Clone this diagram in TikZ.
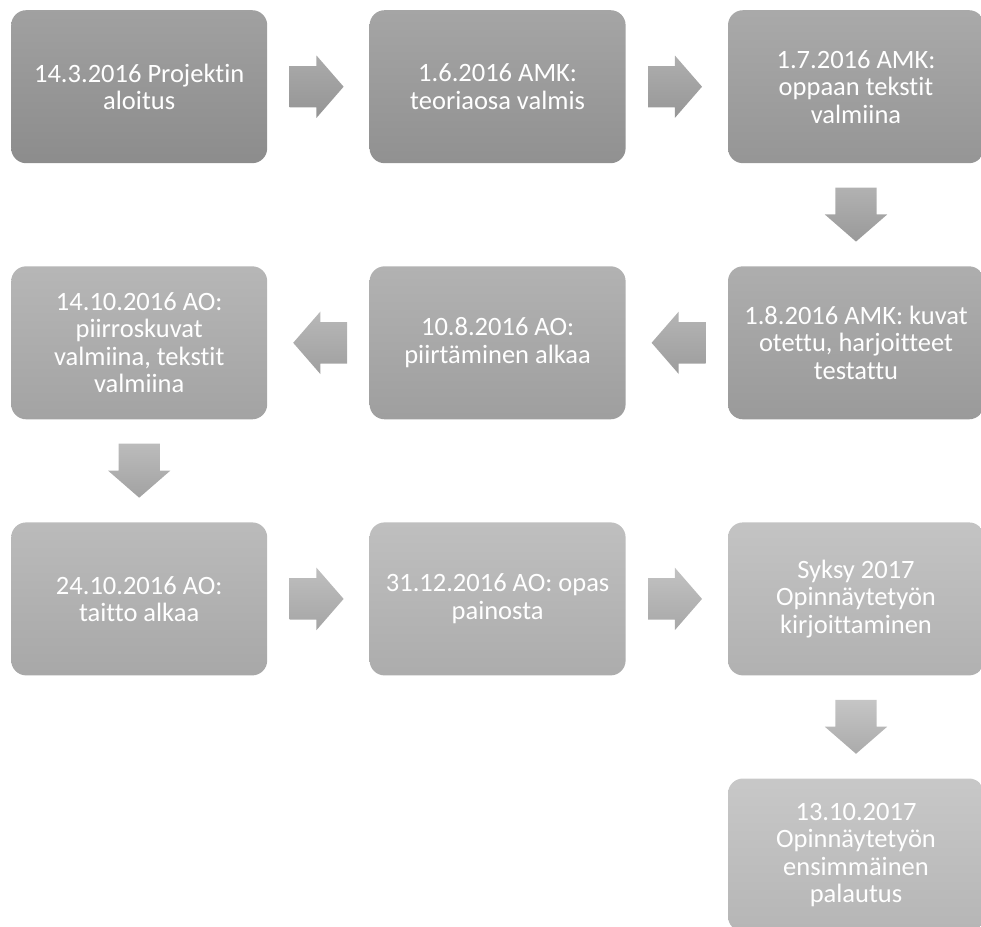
\documentclass[tikz,border=0pt]{standalone}
\usepackage{fontspec}
\setmainfont{Carlito}[Ligatures=NoCommon]
\usetikzlibrary{positioning,shapes.arrows}

\begin{document}
\begin{tikzpicture}[
  x=1pt, y=1pt,
  node distance=102.7pt and 102pt,
  box/.style={rounded corners=15pt, align=center, text=white,
              font=\fontsize{26.5}{27.5}\selectfont,
              minimum width=256pt, minimum height=153pt, inner sep=4pt},
  shd/.style 2 args={top color=black!#1, bottom color=black!#2},
  arr/.style={single arrow, draw=none, inner xsep=0pt, inner ysep=20.5pt,
              minimum height=54pt, minimum width=62pt,
              single arrow head extend=10.5pt, single arrow tip angle=98},
  darr/.style={arr, inner xsep=20.5pt, inner ysep=0pt, shape border rotate=270}
]
\useasboundingbox (0,0) rectangle (981,-926);

% row 1
\node[box, shd={37}{45}, anchor=north west] (start) at (11,-10)
  {14.3.2016 Projektin\\aloitus};
\node[box, shd={35.3}{43.2}, right=of start] (theory)
  {1.6.2016 AMK:\\teoriaosa valmis};
\node[box, shd={33.6}{41.4}, right=of theory] (texts)
  {1.7.2016 AMK:\\oppaan tekstit\\valmiina};
% row 2
\node[box, shd={31.9}{39.6}, below=of texts] (photos)
  {1.8.2016 AMK: kuvat\\otettu, harjoitteet\\testattu};
\node[box, shd={30.2}{37.8}, left=of photos] (drawing)
  {10.8.2016 AO:\\piirtäminen alkaa};
\node[box, shd={28.5}{36}, left=of drawing] (drawings)
  {14.10.2016 AO:\\piirroskuvat\\valmiina, tekstit\\valmiina};
% row 3
\node[box, shd={26.8}{34.2}, below=of drawings] (layout)
  {24.10.2016 AO:\\taitto alkaa};
\node[box, shd={25.1}{32.4}, right=of layout] (print)
  {31.12.2016 AO: opas\\painosta};
\node[box, shd={23.4}{30.6}, right=of print] (thesis)
  {Syksy 2017\\Opinnäytetyön\\kirjoittaminen};
% row 4
\node[box, shd={21.7}{28.8}, below=of thesis] (submit)
  {13.10.2017\\Opinnäytetyön\\ensimmäinen\\palautus};

% block arrows
\node[arr, shd={33}{42}, anchor=tail] (a1) at ([xshift=22pt]start.east) {};
\node[arr, shd={31.7}{40.9}, anchor=tail] (a2) at ([xshift=22pt]theory.east) {};
\node[darr, shd={30.4}{39.8}, anchor=tail] (a3) at ([yshift=-24pt]texts.south) {};
\node[arr, shd={29.1}{38.7}, anchor=tail, shape border rotate=180] (a4)
  at ([xshift=-22pt]photos.west) {};
\node[arr, shd={27.8}{37.6}, anchor=tail, shape border rotate=180] (a5)
  at ([xshift=-22pt]drawing.west) {};
\node[darr, shd={26.5}{36.5}, anchor=tail] (a6) at ([yshift=-24pt]drawings.south) {};
\node[arr, shd={25.2}{35.4}, anchor=tail] (a7) at ([xshift=22pt]layout.east) {};
\node[arr, shd={23.9}{34.3}, anchor=tail] (a8) at ([xshift=22pt]print.east) {};
\node[darr, shd={22.6}{33.2}, anchor=tail] (a9) at ([yshift=-24pt]thesis.south) {};
\end{tikzpicture}
\end{document}
